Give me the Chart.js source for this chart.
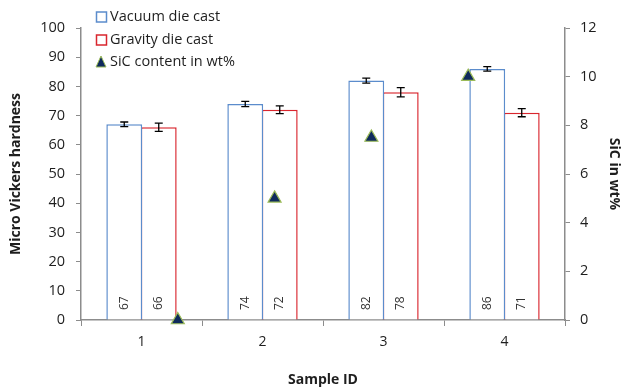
<!DOCTYPE html>
<html>
<head>
<meta charset="utf-8">
<script src="https://cdn.jsdelivr.net/npm/chart.js@4.4.0/dist/chart.umd.min.js"></script>
<style>
  html, body { margin: 0; padding: 0; background: #fff; }
  #wrap { position: relative; width: 624px; height: 388px; }
  #wrap canvas { position: absolute; left: 0; top: 0; }
</style>
</head>
<body>
<div id="wrap">
  <canvas id="hardnessChart" width="624" height="388"></canvas>
  <canvas id="sicChart" width="624" height="388"></canvas>
</div>
<script>
// Sample categories and measurements
const samples = ['1', '2', '3', '4'];
const vacuumHardness = [67, 74, 82, 86];
const gravityHardness = [66, 72, 78, 71];
const vacuumError = [0.8, 0.9, 0.85, 0.8];
const gravityError = [1.4, 1.3, 1.6, 1.4];
const sicPosition = [1, 2, 3, 4];
const sicContent = [0, 5, 7.5, 10];

const hardnessTicks = [0, 10, 20, 30, 40, 50, 60, 70, 80, 90, 100];
const sicTicks = [0, 2, 4, 6, 8, 10, 12];

const FONT = 'Open Sans';
const AXIS_GREY = '#8c8c8c';
const TEXT = '#1e1e1e';

// plot area shared by both canvases
const AREA = { left: 81, right: 59, top: 28, bottom: 68 };

const sicStyle = {
  label: 'SiC content in wt%',
  fill: '#0f2a5c',
  edge: '#9bbb59'
};

// error bars on top of each bar
const errorBars = {
  id: 'errorBars',
  afterDatasetsDraw(chart) {
    const ctx = chart.ctx;
    const y = chart.scales.y;
    [[0, vacuumError], [1, gravityError]].forEach(([di, errs]) => {
      chart.getDatasetMeta(di).data.forEach((bar, i) => {
        const v = chart.data.datasets[di].data[i];
        const top = y.getPixelForValue(v + errs[i]);
        const bot = y.getPixelForValue(v - errs[i]);
        ctx.save();
        ctx.strokeStyle = '#000';
        ctx.lineWidth = 1.3;
        ctx.beginPath();
        ctx.moveTo(bar.x, top); ctx.lineTo(bar.x, bot);
        ctx.moveTo(bar.x - 4, top); ctx.lineTo(bar.x + 4, top);
        ctx.moveTo(bar.x - 4, bot); ctx.lineTo(bar.x + 4, bot);
        ctx.stroke();
        ctx.restore();
      });
    });
  }
};

// rotated value labels near the base of the bars
const barValues = {
  id: 'barValues',
  afterDatasetsDraw(chart) {
    const ctx = chart.ctx;
    const base = chart.scales.y.getPixelForValue(0);
    [0, 1].forEach(di => {
      chart.getDatasetMeta(di).data.forEach((bar, i) => {
        ctx.save();
        ctx.translate(bar.x, base - 10);
        ctx.rotate(-Math.PI / 2);
        ctx.font = '12px "' + FONT + '"';
        ctx.fillStyle = '#333';
        ctx.textAlign = 'left';
        ctx.textBaseline = 'middle';
        ctx.fillText(String(chart.data.datasets[di].data[i]), 0, 0);
        ctx.restore();
      });
    });
  }
};

// legend stacked in the top-left corner
const cornerLegend = {
  id: 'cornerLegend',
  afterDraw(chart) {
    const ctx = chart.ctx;
    const ds = chart.data.datasets;
    ctx.save();
    ctx.font = '14.5px "' + FONT + '"';
    ctx.textBaseline = 'middle';
    [17, 40].forEach((cy, i) => {
      ctx.strokeStyle = ds[i].borderColor;
      ctx.lineWidth = 1.5;
      ctx.strokeRect(96.5, cy - 5, 10, 10);
      ctx.fillStyle = TEXT;
      ctx.fillText(ds[i].label, 110, cy);
    });
    const cy = 62;
    ctx.beginPath();
    ctx.moveTo(101, cy - 6);
    ctx.lineTo(106, cy + 5);
    ctx.lineTo(96, cy + 5);
    ctx.closePath();
    ctx.fillStyle = sicStyle.fill;
    ctx.fill();
    ctx.strokeStyle = sicStyle.edge;
    ctx.lineWidth = 1;
    ctx.stroke();
    ctx.fillStyle = TEXT;
    ctx.fillText(sicStyle.label, 110, cy);
    ctx.restore();
  }
};

// hardness bars with both axes
new Chart(document.getElementById('hardnessChart'), {
  type: 'bar',
  data: {
    labels: samples,
    datasets: [{
      label: 'Vacuum die cast',
      data: vacuumHardness,
      backgroundColor: '#ffffff',
      borderColor: '#5b8ccc',
      borderWidth: 1.5
    }, {
      label: 'Gravity die cast',
      data: gravityHardness,
      backgroundColor: '#ffffff',
      borderColor: '#d9262e',
      borderWidth: 1.5
    }]
  },
  options: {
    responsive: false,
    animation: false,
    layout: { padding: { top: AREA.top, left: 0, right: 0, bottom: 0 } },
    datasets: {
      bar: { categoryPercentage: 0.57, barPercentage: 1.04 }
    },
    plugins: {
      legend: { display: false },
      tooltip: { enabled: false }
    },
    scales: {
      x: {
        grid: {
          offset: true,
          drawOnChartArea: false,
          color: AXIS_GREY,
          tickLength: 6
        },
        border: { color: AXIS_GREY, width: 1.5 },
        ticks: { color: TEXT, font: { family: FONT, size: 14 }, padding: 8 },
        title: {
          display: true,
          text: 'Sample ID',
          color: TEXT,
          font: { family: FONT, size: 14, weight: 'bold' },
          padding: { top: 6, bottom: 0 }
        },
        afterFit(s) { s.height = AREA.bottom; }
      },
      y: {
        position: 'left',
        min: 0,
        max: 100,
        afterBuildTicks(s) { s.ticks = hardnessTicks.map(v => ({ value: v })); },
        grid: { drawOnChartArea: false, color: AXIS_GREY, tickLength: 5 },
        border: { color: AXIS_GREY, width: 1.5 },
        ticks: { color: TEXT, font: { family: FONT, size: 14.5 }, padding: 11 },
        title: {
          display: true,
          text: 'Micro Vickers hardness',
          color: TEXT,
          font: { family: FONT, size: 14, weight: 'bold' },
          padding: { top: 8, bottom: 0 }
        },
        afterFit(s) { s.width = AREA.left; }
      },
      y2: {
        position: 'right',
        min: 0,
        max: 12,
        afterBuildTicks(s) { s.ticks = sicTicks.map(v => ({ value: v })); },
        grid: { drawOnChartArea: false, color: AXIS_GREY, tickLength: 5 },
        border: { color: AXIS_GREY, width: 1.5 },
        ticks: { color: TEXT, font: { family: FONT, size: 14.5 }, padding: 10 },
        title: {
          display: true,
          text: 'SiC in wt%',
          color: TEXT,
          font: { family: FONT, size: 14, weight: 'bold' },
          padding: { top: 2, bottom: 0 }
        },
        afterFit(s) { s.width = AREA.right; }
      }
    }
  },
  plugins: [errorBars, barValues, cornerLegend]
});

// SiC triangles on their own transparent layer, same plot area
new Chart(document.getElementById('sicChart'), {
  type: 'scatter',
  data: {
    datasets: [{
      label: sicStyle.label,
      data: sicPosition.map((p, i) => ({ x: p, y: sicContent[i] })),
      pointStyle: 'triangle',
      pointRadius: 7.5,
      backgroundColor: sicStyle.fill,
      borderColor: sicStyle.edge,
      borderWidth: 1.2,
      clip: false
    }]
  },
  options: {
    responsive: false,
    animation: false,
    layout: { padding: AREA },
    plugins: {
      legend: { display: false },
      tooltip: { enabled: false }
    },
    scales: {
      x: { type: 'linear', min: 0, max: 5, display: false },
      y: { type: 'linear', min: 0, max: 12, display: false }
    }
  }
});
</script>
</body>
</html>
